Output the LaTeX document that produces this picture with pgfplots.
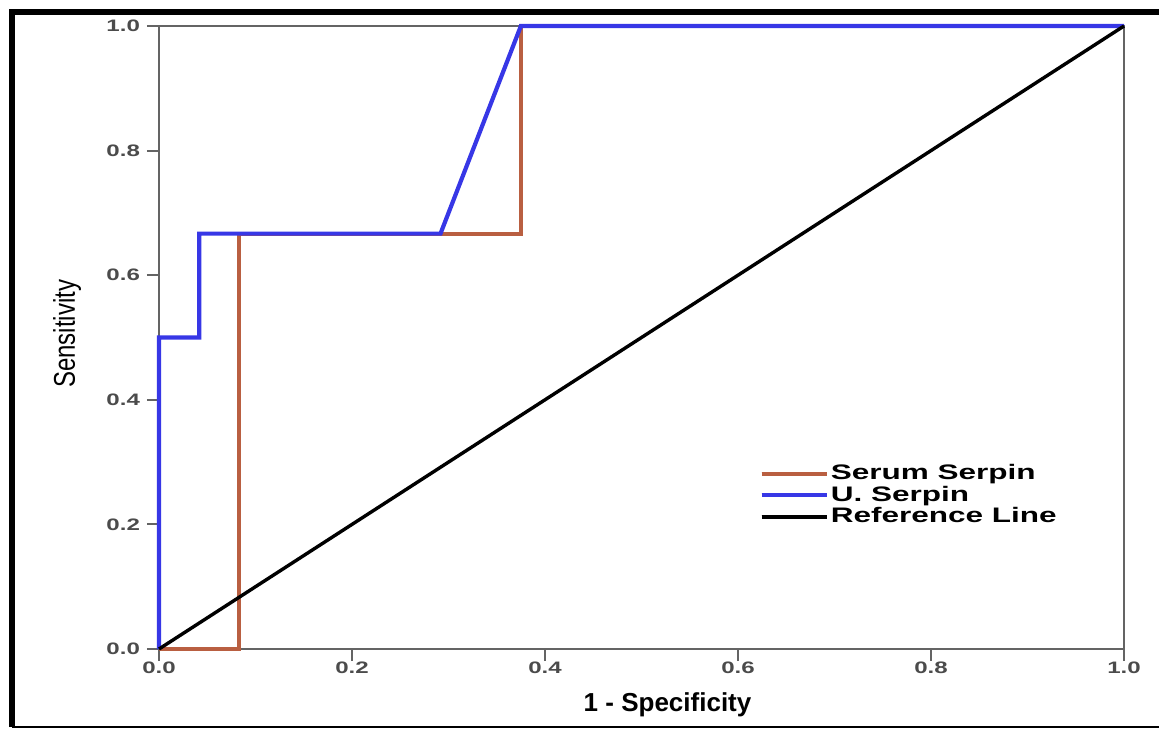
\documentclass[border=0pt]{standalone}
\usepackage{pgfplots}
\pgfplotsset{compat=1.18}
\usepackage{fontspec}
\setmainfont{Liberation Sans}
\definecolor{serum}{RGB}{185,95,65}
\definecolor{userp}{RGB}{55,55,230}
\definecolor{axgray}{RGB}{100,100,100}
\definecolor{tickgray}{RGB}{75,75,75}
\newcommand\wide[1]{\scalebox{1.45}[1]{#1}}
\newcommand\lwide[1]{\scalebox{1.5}[1]{#1}}

\begin{document}
\begin{tikzpicture}
\begin{axis}[
    scale only axis,
    width=482.5pt, height=311.5pt,
    xmin=0, xmax=1, ymin=0, ymax=1,
    clip=false,
    axis line style={axgray, line width=1pt},
    tick style={axgray, line width=1pt},
    major tick length=6pt,
    tick align=outside,
    tick pos=left,
    xtick={0,0.2,0.4,0.6,0.8,1},
    ytick={0,0.2,0.4,0.6,0.8,1},
    xticklabels={\wide{0.0},\wide{0.2},\wide{0.4},\wide{0.6},\wide{0.8},\wide{1.0}},
    yticklabels={\wide{0.0},\wide{0.2},\wide{0.4},\wide{0.6},\wide{0.8},\wide{1.0}},
    tick label style={font=\bfseries\fontsize{8.3}{9}\selectfont, text=tickgray},
    x tick label style={yshift=3pt},
    xlabel={\textbf{1 - Specificity}},
    xlabel style={font=\fontsize{13}{15}\selectfont, at={(axis description cs:0.527,0)}, anchor=center, yshift=-28pt},
    ylabel={\scalebox{0.8}[1]{Sensitivity}},
    ylabel style={font=\fontsize{15}{17}\selectfont, at={(axis description cs:0,0.506)}, anchor=center, yshift=46pt},
    legend style={at={(rel axis cs:0.622,0.300)}, anchor=north west, draw=none, fill=none,
        font=\bfseries\fontsize{10.5}{12}\selectfont, inner sep=0pt, row sep=-0.3pt,
        nodes={inner sep=1pt}},
    legend cell align=left,
    legend image code/.code={\draw[#1] (0pt,0pt) -- (30pt,0pt); \path (0pt,0pt) -- (32.5pt,0pt);},
]
\addplot[serum, line width=1.9pt, line join=miter] coordinates {
    (0,0) (0.0833,0) (0.0833,0.6667) (0.375,0.6667) (0.375,1) (1,1)};
\addlegendentry{\lwide{Serum Serpin}}
\addplot[userp, line width=2.1pt, line join=miter] coordinates {
    (0,0) (0,0.5) (0.0417,0.5) (0.0417,0.6667) (0.2917,0.6667) (0.375,1) (1,1)};
\addlegendentry{\lwide{U. Serpin}}
\addplot[black, line width=1.7pt] coordinates {(0,0) (1,1)};
\addlegendentry{\lwide{Reference Line}}
\end{axis}
\draw[line width=3pt] (-73.5pt,-39pt) -- (-73.5pt,318.25pt) -- (510pt,318.25pt);
\draw[line width=0.8pt] (-73.5pt,-38.9pt) -- (510pt,-38.9pt);
\pgfresetboundingbox
\useasboundingbox (-79.5pt,-39.5pt) rectangle (500pt,324.5pt);
\end{tikzpicture}
\end{document}
